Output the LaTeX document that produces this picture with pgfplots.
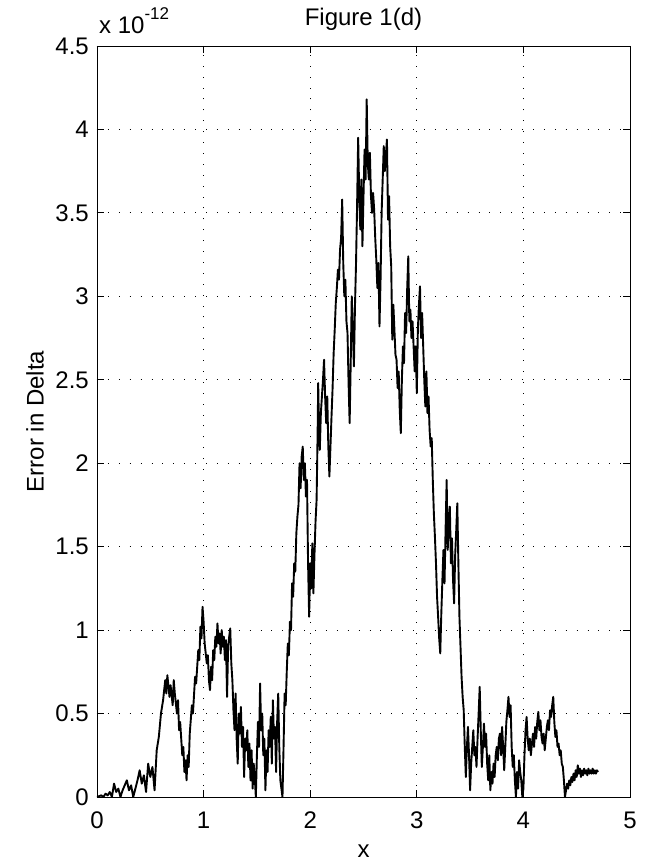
\documentclass[border=0pt]{standalone}
\usepackage{fontspec}
\setmainfont{Liberation Sans}
\usepackage{pgfplots}
\pgfplotsset{compat=1.18}

\pgfplotstableread{
x y
0.00 0.00
0.02 0.005
0.04 0.01
0.06 0.00
0.08 0.02
0.10 0.01
0.12 0.03
0.14 0.00
0.16 0.08
0.18 0.03
0.20 0.05
0.22 0.00
0.24 0.04
0.26 0.07
0.28 0.10
0.30 0.04
0.32 0.07
0.34 0.00
0.36 0.05
0.38 0.10
0.40 0.16
0.42 0.08
0.44 0.13
0.46 0.03
0.48 0.20
0.50 0.12
0.52 0.18
0.54 0.04
0.56 0.28
0.58 0.36
0.60 0.50
0.62 0.58
0.64 0.70
0.65 0.62
0.66 0.73
0.68 0.60
0.69 0.67
0.71 0.55
0.72 0.70
0.73 0.62
0.75 0.50
0.76 0.58
0.77 0.40
0.78 0.45
0.80 0.25
0.81 0.30
0.82 0.15
0.83 0.22
0.84 0.10
0.85 0.25
0.86 0.18
0.87 0.38
0.89 0.55
0.90 0.50
0.92 0.72
0.93 0.68
0.95 0.88
0.96 0.82
0.97 1.02
0.98 0.95
0.99 1.14
1.00 1.05
1.01 0.92
1.03 0.80
1.04 0.85
1.05 0.70
1.06 0.64
1.07 0.78
1.08 0.70
1.09 0.88
1.10 0.82
1.11 0.96
1.12 0.90
1.13 1.04
1.14 0.92
1.15 0.98
1.16 0.86
1.17 1.00
1.18 0.90
1.19 0.96
1.20 0.82
1.21 0.94
1.22 0.60
1.23 0.90
1.24 0.96
1.25 1.01
1.26 0.80
1.27 0.70
1.28 0.52
1.29 0.40
1.30 0.62
1.31 0.35
1.32 0.20
1.33 0.50
1.34 0.38
1.35 0.54
1.36 0.30
1.37 0.42
1.38 0.12
1.39 0.35
1.40 0.28
1.41 0.40
1.42 0.18
1.43 0.32
1.44 0.10
1.45 0.28
1.46 0.05
1.47 0.20
1.48 0.12
1.49 0.00
1.50 0.25
1.51 0.45
1.52 0.30
1.53 0.68
1.54 0.40
1.55 0.50
1.56 0.25
1.57 0.35
1.58 0.04
1.59 0.28
1.60 0.15
1.61 0.40
1.62 0.30
1.63 0.48
1.64 0.20
1.65 0.58
1.66 0.35
1.67 0.42
1.68 0.15
1.69 0.45
1.70 0.62
1.71 0.30
1.72 0.10
1.73 0.05
1.74 0.00
1.75 0.30
1.76 0.62
1.77 0.55
1.78 0.75
1.79 0.92
1.80 0.85
1.81 1.05
1.82 1.00
1.83 1.28
1.84 1.20
1.85 1.40
1.86 1.35
1.87 1.58
1.88 1.68
1.89 1.75
1.90 2.00
1.91 1.85
1.92 2.04
1.93 2.10
1.94 1.90
1.95 2.00
1.96 1.80
1.97 1.90
1.98 1.40
1.99 1.08
2.00 1.40
2.01 1.25
2.02 1.52
2.03 1.22
2.04 1.45
2.05 1.65
2.06 1.78
2.07 2.20
2.075 2.48
2.08 2.30
2.09 2.08
2.10 2.30
2.11 2.40
2.12 2.50
2.13 2.62
2.14 2.40
2.15 2.24
2.16 2.40
2.17 2.10
2.18 1.92
2.19 2.10
2.20 2.28
2.21 2.45
2.22 2.66
2.23 2.80
2.24 2.96
2.25 3.05
2.26 3.16
2.27 3.10
2.28 3.28
2.29 3.35
2.30 3.58
2.31 3.20
2.32 3.00
2.33 3.10
2.34 2.85
2.35 2.78
2.36 2.48
2.37 2.24
2.38 2.60
2.39 3.00
2.40 2.80
2.41 2.58
2.42 2.94
2.43 3.20
2.44 3.55
2.45 3.95
2.46 3.60
2.47 3.40
2.48 3.70
2.49 3.30
2.50 3.60
2.51 3.88
2.52 3.70
2.53 4.18
2.54 3.80
2.55 3.70
2.56 3.86
2.57 3.60
2.58 3.50
2.59 3.62
2.60 3.52
2.61 3.35
2.62 3.22
2.63 3.05
2.64 3.20
2.65 2.82
2.66 3.10
2.67 3.50
2.68 3.70
2.69 3.90
2.70 3.75
2.71 3.85
2.72 3.94
2.73 3.46
2.74 3.60
2.75 3.30
2.76 3.18
2.77 2.74
2.78 2.95
2.79 2.80
2.80 2.65
2.81 2.62
2.82 2.45
2.83 2.55
2.84 2.32
2.85 2.18
2.86 2.50
2.87 2.70
2.88 2.60
2.89 2.90
2.90 2.78
2.91 3.05
2.92 3.24
2.93 2.85
2.94 2.92
2.95 2.75
2.96 2.85
2.97 2.70
2.98 2.55
2.99 2.70
3.00 2.42
3.01 2.80
3.02 2.95
3.03 3.06
3.04 2.75
3.05 2.90
3.06 2.70
3.07 2.50
3.08 2.34
3.09 2.55
3.10 2.30
3.11 2.40
3.12 2.20
3.13 2.10
3.14 2.15
3.15 1.90
3.16 1.70
3.17 1.56
3.18 1.40
3.19 1.20
3.20 1.08
3.21 0.95
3.22 0.86
3.23 1.10
3.24 1.30
3.25 1.48
3.26 1.28
3.27 1.60
3.28 1.90
3.29 1.48
3.30 1.65
3.31 1.74
3.32 1.40
3.33 1.55
3.34 1.30
3.35 1.16
3.36 1.45
3.37 1.60
3.38 1.76
3.39 1.40
3.40 1.08
3.41 0.90
3.42 0.72
3.43 0.60
3.44 0.52
3.45 0.30
3.46 0.12
3.47 0.30
3.48 0.42
3.49 0.25
3.50 0.04
3.51 0.20
3.52 0.30
3.53 0.40
3.54 0.25
3.55 0.30
3.56 0.18
3.57 0.35
3.58 0.50
3.59 0.66
3.60 0.40
3.61 0.18
3.62 0.30
3.63 0.44
3.64 0.30
3.65 0.38
3.66 0.20
3.67 0.10
3.68 0.25
3.69 0.04
3.70 0.15
3.71 0.08
3.72 0.20
3.73 0.12
3.74 0.25
3.75 0.30
3.76 0.22
3.77 0.35
3.78 0.38
3.79 0.25
3.80 0.42
3.81 0.30
3.82 0.16
3.83 0.30
3.84 0.45
3.85 0.52
3.86 0.60
3.87 0.48
3.88 0.55
3.89 0.30
3.90 0.18
3.91 0.25
3.92 0.10
3.93 0.00
3.94 0.15
3.95 0.05
3.96 0.22
3.97 0.15
3.98 0.10
3.99 0.00
4.00 0.05
4.01 0.25
4.02 0.40
4.03 0.48
4.04 0.35
4.05 0.28
4.06 0.35
4.07 0.25
4.08 0.32
4.09 0.38
4.10 0.30
4.11 0.42
4.12 0.35
4.13 0.45
4.14 0.51
4.15 0.40
4.16 0.46
4.17 0.36
4.18 0.32
4.19 0.38
4.20 0.28
4.21 0.35
4.22 0.42
4.23 0.46
4.24 0.40
4.25 0.52
4.26 0.48
4.27 0.55
4.28 0.60
4.29 0.45
4.30 0.36
4.31 0.40
4.32 0.30
4.33 0.32
4.34 0.25
4.35 0.28
4.36 0.20
4.37 0.18
4.38 0.10
4.39 0.00
4.40 0.04
4.41 0.08
4.42 0.05
4.43 0.10
4.44 0.07
4.45 0.12
4.46 0.09
4.47 0.14
4.48 0.10
4.49 0.16
4.50 0.12
4.51 0.19
4.52 0.14
4.53 0.17
4.54 0.12
4.55 0.16
4.56 0.13
4.57 0.17
4.58 0.14
4.59 0.16
4.60 0.13
4.61 0.17
4.62 0.14
4.63 0.16
4.64 0.14
4.65 0.17
4.66 0.14
4.67 0.16
4.68 0.14
4.69 0.16
4.70 0.15
}\errdata

\begin{document}
\begin{tikzpicture}
\begin{axis}[
    name=ax,
    scale only axis,
    width=533pt, height=751pt,
    xmin=0, xmax=5, ymin=0, ymax=4.5,
    xtick={0,1,2,3,4,5},
    ytick={0,0.5,1,1.5,2,2.5,3,3.5,4,4.5},
    yticklabels={0,0.5,1,1.5,2,2.5,3,3.5,4,4.5},
    xticklabels={0,1,2,3,4,5},
    tick align=inside,
    major tick length=7pt,
    tick style={black, line width=0.8pt},
    axis line style={line width=0.8pt},
    grid=major,
    major grid style={black, line width=0.9pt, dash pattern=on 0.9pt off 10pt},
    ticklabel style={font=\fontsize{24}{28}\selectfont, inner sep=0pt},
    xticklabel style={anchor=north, yshift=-15pt},
    yticklabel style={anchor=east, xshift=-8pt},
    xlabel={x},
    ylabel={Error in Delta},
    label style={font=\fontsize{24}{28}\selectfont},
    xlabel style={at={(axis description cs:0.5,0)}, anchor=north, inner sep=0pt, yshift=-48pt},
    ylabel style={at={(axis description cs:0,0.5)}, anchor=south, inner sep=0pt, yshift=53pt},
    title={Figure 1(d)},
    title style={font=\fontsize{24}{28}\selectfont, at={(axis description cs:0.5,1)}, anchor=south, inner sep=0pt, yshift=9pt},
]
\addplot[black, line width=1.9pt, line join=round] table[x=x, y=y] {\errdata};
\end{axis}
\node[anchor=base west, font=\fontsize{24}{28}\selectfont, inner sep=0pt]
  at ([xshift=2pt, yshift=12pt]ax.north west) {x 10\raisebox{0.62em}{\fontsize{17}{20}\selectfont -12}};
\pgfresetboundingbox
\path[use as bounding box] ([xshift=-97pt, yshift=-70pt]ax.south west) rectangle ([xshift=21pt, yshift=46pt]ax.north east);
\end{tikzpicture}
\end{document}
